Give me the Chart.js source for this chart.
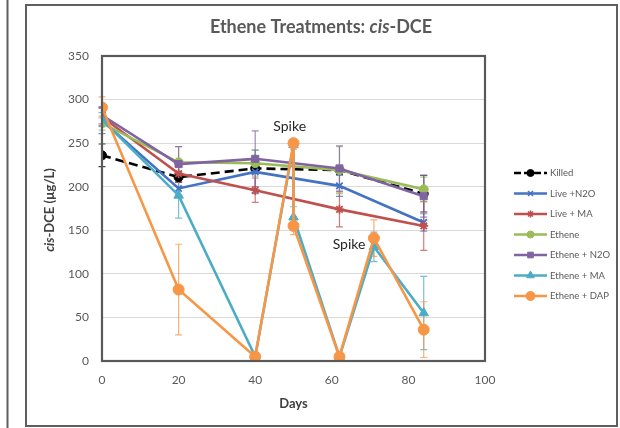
<!DOCTYPE html>
<html>
<head>
<meta charset="utf-8">
<script src="https://cdn.jsdelivr.net/npm/chart.js@4.4.1/dist/chart.umd.min.js"></script>
<style>
  html, body { margin: 0; padding: 0; background: #fff; }
  #wrap { position: relative; width: 620px; height: 428px; }
</style>
</head>
<body>
<div id="wrap"><canvas id="c" width="620" height="428"></canvas></div>
<script>
// ---- data ----
const seriesNames = ['Killed', 'Live +N2O', 'Live + MA', 'Ethene', 'Ethene + N2O', 'Ethene + MA', 'Ethene + DAP'];
const daysBasic = [0, 20, 40, 62, 84];
const daysSpiked = [0, 20, 40, 50, 50, 62, 71, 84];

const killed      = [236, 211, 221, 219, 192];
const liveN2O     = [276, 198, 217, 201, 159];
const liveMA      = [280, 215, 196, 174, 155];
const ethene      = [273, 228, 227, 219, 197];
const etheneN2O   = [282, 226, 232, 221, 189];
const etheneMA    = [277, 190, 5, 248, 165, 5, 131, 55];
const etheneDAP   = [291, 82, 5, 250, 155, 5, 141, 36];

const killedErr    = [13, 6, 5, 5, 21];
const liveN2OErr   = [15, 8, 25, 12, 10];
const liveMAErr    = [10, 10, 14, 20, 28];
const etheneErr    = [8, 18, 15, 27, 14];
const etheneN2OErr = [10, 20, 32, 26, 24];
const etheneMAErr  = [8, 26, 2, 5, 12, 2, 17, 42];
const etheneDAPErr = [12, 52, 2, 5, 10, 2, 21, 32];

const xTicks = [0, 20, 40, 60, 80, 100];
const yTicks = [0, 50, 100, 150, 200, 250, 300, 350];
const spikeNotes = ['Spike', 'Spike'];
const spikeNoteAt = [[49, 269], [64.5, 134]];

// ---- styles ----
const colors = ['#000000', '#4472C4', '#C0504D', '#9BBB59', '#8064A2', '#4BACC6', '#F79646'];
const pstyles = ['circle', 'crossRot', 'star', 'circle', 'rect', 'triangle', 'circle'];
const pradius = [4.5, 4.5, 4.5, 4.5, 5, 5.5, 5.5];
const xsList = [daysBasic, daysBasic, daysBasic, daysBasic, daysBasic, daysSpiked, daysSpiked];
const ysList = [killed, liveN2O, liveMA, ethene, etheneN2O, etheneMA, etheneDAP];
const errList = [killedErr, liveN2OErr, liveMAErr, etheneErr, etheneN2OErr, etheneMAErr, etheneDAPErr];

const FONT = 'Lato, "Open Sans", sans-serif';
const GREY = '#595959';

const datasets = seriesNames.map((name, i) => ({
  label: name,
  data: xsList[i].map((x, j) => ({ x: x, y: ysList[i][j] })),
  borderColor: colors[i],
  backgroundColor: colors[i],
  borderWidth: 2.6,
  borderDash: i === 0 ? [9, 5] : [],
  pointStyle: pstyles[i],
  pointRadius: pradius[i],
  pointBorderWidth: (pstyles[i] === 'crossRot' || pstyles[i] === 'star') ? 1.8 : 1,
  pointBorderColor: colors[i],
  pointBackgroundColor: colors[i],
  tension: 0,
  fill: false,
  order: seriesNames.length - i
}));

const framePlugin = {
  id: 'frame',
  beforeDraw(chart) {
    const ctx = chart.ctx;
    ctx.save();
    ctx.fillStyle = '#fff';
    ctx.fillRect(0, 0, chart.width, chart.height);
    ctx.strokeStyle = '#5f5f5f';
    ctx.lineWidth = 2;
    ctx.beginPath();
    ctx.moveTo(7.5, 0); ctx.lineTo(7.5, 428);
    ctx.stroke();
    ctx.strokeRect(26, 5, 591, 421);
    ctx.restore();
  },
  beforeDatasetsDraw(chart) {
    const ctx = chart.ctx;
    const xs = chart.scales.x, ys = chart.scales.y;
    ctx.save();
    // error bars
    errList.forEach((errs, i) => {
      ctx.strokeStyle = colors[i];
      ctx.globalAlpha = 0.75;
      ctx.lineWidth = 1.2;
      xsList[i].forEach((xv, j) => {
        const v = ysList[i][j], e = errs[j];
        const px = xs.getPixelForValue(xv);
        const pt = ys.getPixelForValue(v + e);
        const pb = ys.getPixelForValue(Math.max(0, v - e));
        ctx.beginPath();
        ctx.moveTo(px, pt); ctx.lineTo(px, pb);
        ctx.moveTo(px - 3.5, pt); ctx.lineTo(px + 3.5, pt);
        ctx.moveTo(px - 3.5, pb); ctx.lineTo(px + 3.5, pb);
        ctx.stroke();
      });
    });
    ctx.restore();
  },
  afterDraw(chart) {
    const ctx = chart.ctx;
    const a = chart.chartArea;
    const xs = chart.scales.x, ys = chart.scales.y;
    ctx.save();
    // plot box
    ctx.strokeStyle = GREY;
    ctx.lineWidth = 2.2;
    ctx.strokeRect(a.left, a.top, a.right - a.left, a.bottom - a.top);

    // title with italic part
    const drawMixed = (parts, cx, cy, size) => {
      let total = 0;
      parts.forEach(p => { ctx.font = (p[1] ? 'italic ' : '') + 'bold ' + size + 'px ' + FONT; total += ctx.measureText(p[0]).width; });
      let x = cx - total / 2;
      parts.forEach(p => {
        ctx.font = (p[1] ? 'italic ' : '') + 'bold ' + size + 'px ' + FONT;
        ctx.fillText(p[0], x, cy);
        x += ctx.measureText(p[0]).width;
      });
    };
    ctx.fillStyle = GREY;
    ctx.textBaseline = 'middle';
    ctx.textAlign = 'left';
    drawMixed([['Ethene Treatments: ', false], ['cis', true], ['-DCE', false]], 321, 27, 18);

    // y title
    ctx.save();
    ctx.translate(50, 210);
    ctx.rotate(-Math.PI / 2);
    ctx.fillStyle = '#404040';
    drawMixed([['cis', true], ['-DCE (µg/L)', false]], 0, 0, 13);
    ctx.restore();

    // x title
    ctx.fillStyle = '#404040';
    drawMixed([['Days', false]], (a.left + a.right) / 2, 404, 13);

    // spike notes
    ctx.fillStyle = '#262626';
    ctx.textAlign = 'center';
    ctx.font = '14px ' + FONT;
    spikeNotes.forEach((t, k) => {
      ctx.fillText(t, xs.getPixelForValue(spikeNoteAt[k][0]), ys.getPixelForValue(spikeNoteAt[k][1]));
    });

    // legend
    const lx0 = 514, lx1 = 547, ly0 = 173, dy = 20.5;
    ctx.textAlign = 'left';
    ctx.font = '9.5px ' + FONT;
    seriesNames.forEach((name, i) => {
      const y = ly0 + i * dy;
      ctx.strokeStyle = colors[i];
      ctx.fillStyle = colors[i];
      ctx.lineWidth = 2.6;
      ctx.setLineDash(i === 0 ? [7, 3] : []);
      ctx.beginPath(); ctx.moveTo(lx0, y); ctx.lineTo(lx1, y); ctx.stroke();
      ctx.setLineDash([]);
      ctx.lineWidth = (pstyles[i] === 'crossRot' || pstyles[i] === 'star') ? 1.6 : 1;
      Chart.helpers.drawPoint(ctx, { pointStyle: pstyles[i], radius: pradius[i] - 1, borderWidth: ctx.lineWidth, rotation: 0 }, (lx0 + lx1) / 2, y);
      ctx.fillStyle = GREY;
      ctx.fillText(name, lx1 + 3, y);
    });
    ctx.restore();
  }
};

new Chart(document.getElementById('c'), {
  type: 'line',
  data: { datasets: datasets },
  plugins: [framePlugin],
  options: {
    responsive: false,
    animation: false,
    devicePixelRatio: 1,
    layout: { padding: { left: 30, top: 56, right: 135, bottom: 0 } },
    plugins: { legend: { display: false }, tooltip: { enabled: false }, title: { display: false } },
    scales: {
      x: {
        type: 'linear',
        min: xTicks[0], max: xTicks[xTicks.length - 1],
        afterFit(s) { s.height = 67; },
        afterBuildTicks(s) { s.ticks = xTicks.map(v => ({ value: v })); },
        grid: { display: false, drawTicks: false },
        border: { display: false },
        ticks: { padding: 12, color: GREY, font: { family: FONT, size: 12 } }
      },
      y: {
        type: 'linear',
        min: yTicks[0], max: yTicks[yTicks.length - 1],
        afterFit(s) { s.width = 72; },
        afterBuildTicks(s) { s.ticks = yTicks.map(v => ({ value: v })); },
        grid: { color: '#d9d9d9', lineWidth: 1, drawTicks: false },
        border: { display: false },
        ticks: { padding: 13, color: GREY, font: { family: FONT, size: 12 } }
      }
    }
  }
});
</script>
</body>
</html>
